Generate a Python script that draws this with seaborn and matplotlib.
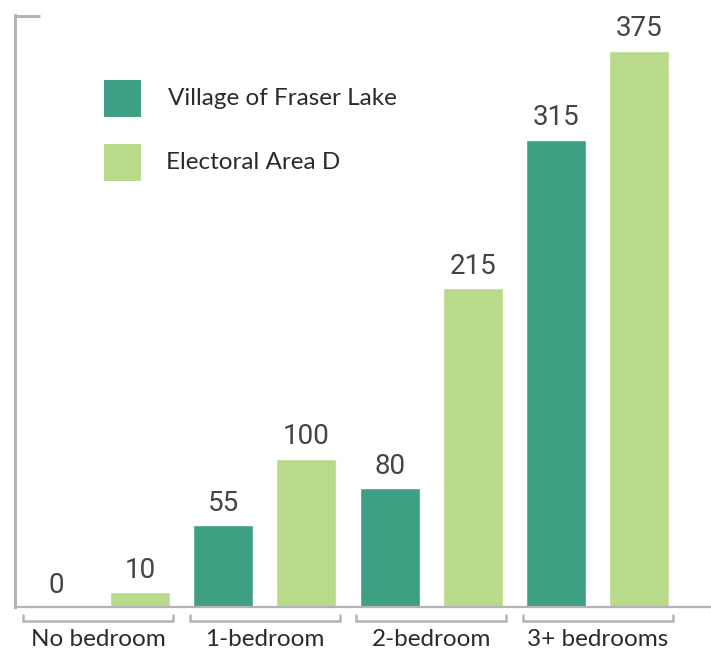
import pandas as pd
import matplotlib.pyplot as plt
import seaborn as sns
from matplotlib.patches import Rectangle

# Data
categories = ["No bedroom", "1-bedroom", "2-bedroom", "3+ bedrooms"]
series_names = ["Village of Fraser Lake", "Electoral Area D"]
fraser_lake = [0, 55, 80, 315]
area_d = [10, 100, 215, 375]

colors = ["#3da084", "#b8da8a"]
axis_gray = "#b3b3b8"

df = pd.DataFrame({
    "category": categories * 2,
    "series": [series_names[0]] * 4 + [series_names[1]] * 4,
    "value": fraser_lake + area_d,
})

sns.set_style("white")
plt.rcParams["font.family"] = ["Lato", "DejaVu Sans"]

W, H = 711, 656
fig = plt.figure(figsize=(W / 100, H / 100), dpi=100)
ax = fig.add_axes([15 / W, 49 / H, 696 / W, 592 / H])

sns.barplot(data=df, x="category", y="value", hue="series", order=categories,
            hue_order=series_names, palette=colors, width=1.0, gap=0.28,
            saturation=1, legend=False, ax=ax)

ax.set_xlim(-0.5, 3.68)
ax.set_ylim(0, 399)
ax.set_xlabel("")
ax.set_ylabel("")

# value labels above bars
for cont in ax.containers:
    ax.bar_label(cont, padding=6, fontsize=20, color="#444444", family="Roboto")

# spines
for s in ["top", "right"]:
    ax.spines[s].set_visible(False)
ax.spines["left"].set_color(axis_gray)
ax.spines["left"].set_linewidth(2.2)
ax.spines["bottom"].set_color(axis_gray)
ax.spines["bottom"].set_linewidth(1.6)

# single short tick at the top of the value axis
ax.set_yticks([398.5])
ax.set_yticklabels([""])
ax.tick_params(axis="y", left=True, direction="in", length=18, width=2.2, color=axis_gray)
ax.tick_params(axis="x", bottom=False, length=0, pad=16, labelsize=17.5, labelcolor="#2b2b2b")

# brackets under each category
for i in range(len(categories)):
    ax.plot([i - 0.45, i - 0.45, i + 0.45, i + 0.45], [-0.013, -0.024, -0.024, -0.013],
            transform=ax.get_xaxis_transform(), color=axis_gray, lw=1.8,
            clip_on=False, solid_joinstyle="miter")

# legend swatches and labels (figure pixel positions)
for k, (name, c) in enumerate(zip(series_names, colors)):
    top = 80 + 64 * k
    fig.add_artist(Rectangle((104 / W, 1 - (top + 37) / H), 37 / W, 37 / H,
                             transform=fig.transFigure, facecolor=c, edgecolor="none"))
    fig.text((166 + 2 * (1 - k)) / W, 1 - (top + 18.5) / H, name, fontsize=17.5,
             color="#2b2b2b", va="center", ha="left")

fig.savefig("out.png", dpi=100)
